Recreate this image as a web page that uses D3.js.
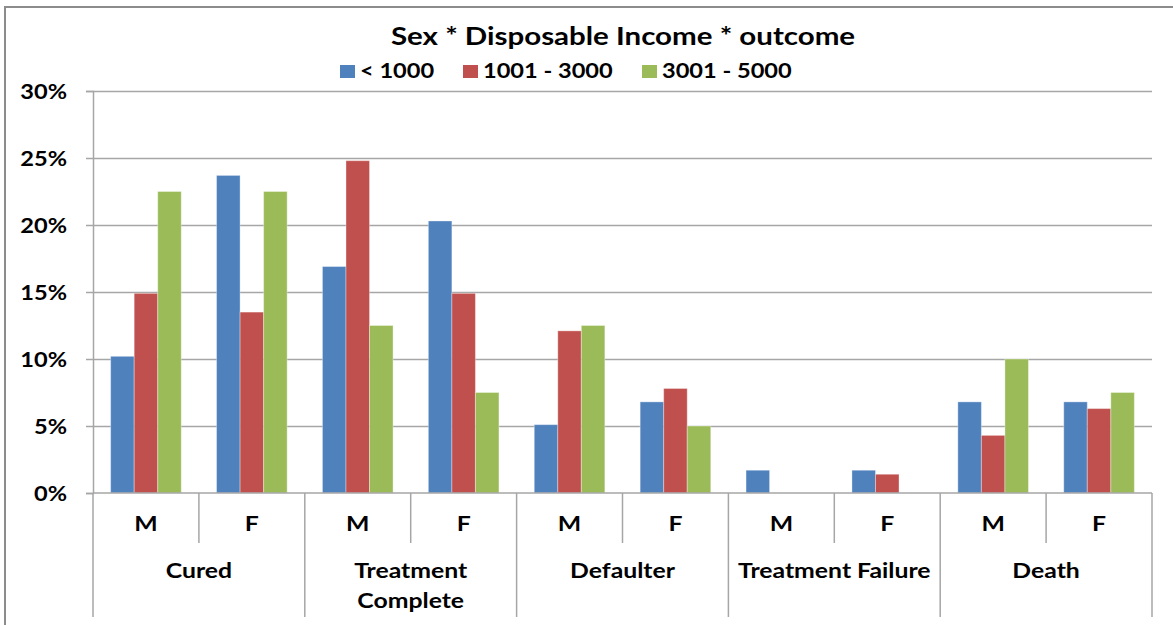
<!DOCTYPE html>
<html>
<head>
<meta charset="utf-8">
<script src="https://cdn.jsdelivr.net/npm/d3@7"></script>
<style>
  html, body { margin: 0; padding: 0; background: #fff; }
  svg { display: block; }
  text { font-family: Lato, "Open Sans", sans-serif; font-weight: bold; fill: #000; }
</style>
</head>
<body>
<svg id="chart" width="1173" height="625"></svg>
<script>
// Outcome categories, each split by sex
const categories = ["Cured", "Treatment Complete", "Defaulter", "Treatment Failure", "Death"];
const categoryLines = [["Cured"], ["Treatment", "Complete"], ["Defaulter"], ["Treatment Failure"], ["Death"]];
const sexes = ["M", "F"];

// Income bands (legend order)
const seriesNames = ["< 1000", "1001 - 3000", "3001 - 5000"];
const seriesColors = ["#4F81BD", "#C0504D", "#9BBB59"];

// Percentages per category/sex, in order Cured M, Cured F, Treatment Complete M, ...
const under1000   = [10.2, 23.7, 16.9, 20.3, 5.1, 6.8, 1.7, 1.7, 6.8, 6.8];
const from1001    = [14.9, 13.5, 24.8, 14.9, 12.1, 7.8, 0.0, 1.4, 4.3, 6.3];
const from3001    = [22.5, 22.5, 12.5, 7.5, 12.5, 5.0, 0.0, 0.0, 10.0, 7.5];

const yTicks = [0, 5, 10, 15, 20, 25, 30];

const seriesValues = [under1000, from1001, from3001];

// Horizontal stretch applied to every label
const SX = 1.18;

const svg = d3.select("#chart");
const plot = { left: 93, right: 1152, top: 91, bottom: 493 };

// outer chart frame
svg.append("rect")
  .attr("x", 5).attr("y", 7)
  .attr("width", 1200).attr("height", 660)
  .attr("fill", "none").attr("stroke", "#8c8c8c").attr("stroke-width", 2);

const groups = [];
categories.forEach(c => sexes.forEach(s => groups.push(c + "|" + s)));

const x0 = d3.scaleBand().domain(groups).range([plot.left, plot.right]).padding(0);
const x1 = d3.scaleBand().domain(seriesNames).range([0, x0.bandwidth()])
  .paddingInner(0).paddingOuter(0.75);
const y = d3.scaleLinear().domain([0, 30]).range([plot.bottom, plot.top]);

// gridlines
svg.append("g")
  .attr("transform", `translate(${plot.left},0)`)
  .call(d3.axisLeft(y).tickValues(yTicks.slice(1)).tickSize(-(plot.right - plot.left)).tickFormat(""))
  .call(g => g.select(".domain").remove())
  .call(g => g.selectAll("line").attr("stroke", "#a6a6a6").attr("stroke-width", 1.5));

// y axis
const yAxis = svg.append("g")
  .attr("transform", `translate(${plot.left},0)`)
  .call(d3.axisLeft(y).tickValues(yTicks).tickSize(7).tickFormat(d => d + "%"));
yAxis.select(".domain").attr("stroke", "#a6a6a6").attr("stroke-width", 1.5);
yAxis.selectAll("line").attr("stroke", "#a6a6a6").attr("stroke-width", 1.5);
yAxis.selectAll("text")
  .attr("x", null)
  .attr("dy", "0.36em")
  .attr("transform", `translate(-26,0) scale(${SX},1)`)
  .style("font-size", "20px")
  .attr("fill", "#000");

// bars
const barData = [];
groups.forEach((g, i) => {
  seriesNames.forEach((s, k) => {
    barData.push({ group: g, series: s, value: seriesValues[k][i], color: seriesColors[k] });
  });
});

svg.append("g").selectAll("rect")
  .data(barData.filter(d => d.value > 0))
  .join("rect")
  .attr("x", d => x0(d.group) + x1(d.series))
  .attr("width", x1.bandwidth())
  .attr("y", d => y(d.value))
  .attr("height", d => y(0) - y(d.value))
  .attr("fill", d => d.color)
  .attr("stroke", "rgba(255,255,255,0.35)")
  .attr("stroke-width", 1);

// category axis: baseline, dividers and labels
const xAxis = svg.append("g");
xAxis.append("line")
  .attr("x1", plot.left).attr("x2", plot.right)
  .attr("y1", plot.bottom).attr("y2", plot.bottom)
  .attr("stroke", "#a6a6a6").attr("stroke-width", 1.5);

const catScale = d3.scaleBand().domain(categories).range([plot.left, plot.right]).padding(0);

// long dividers between categories
const catEdges = categories.map(c => catScale(c)).concat([plot.right]);
xAxis.selectAll("line.cat")
  .data(catEdges)
  .join("line")
  .attr("class", "cat")
  .attr("x1", d => d).attr("x2", d => d)
  .attr("y1", plot.bottom).attr("y2", 617)
  .attr("stroke", "#a6a6a6").attr("stroke-width", 1.5);

// short dividers between M and F
xAxis.selectAll("line.sex")
  .data(categories)
  .join("line")
  .attr("class", "sex")
  .attr("x1", c => x0(c + "|F")).attr("x2", c => x0(c + "|F"))
  .attr("y1", plot.bottom).attr("y2", 543)
  .attr("stroke", "#a6a6a6").attr("stroke-width", 1.5);

// sex labels
xAxis.selectAll("text.sex")
  .data(groups)
  .join("text")
  .attr("class", "sex")
  .attr("text-anchor", "middle")
  .attr("transform", g => `translate(${x0(g) + x0.bandwidth() / 2},531) scale(${SX},1)`)
  .style("font-size", "21px")
  .text(g => g.split("|")[1]);

// category labels
categories.forEach((c, i) => {
  const cx = catScale(c) + catScale.bandwidth() / 2;
  categoryLines[i].forEach((line, j) => {
    xAxis.append("text")
      .attr("text-anchor", "middle")
      .attr("transform", `translate(${cx},${578 + j * 30}) scale(${SX},1)`)
      .style("font-size", "21px")
      .text(line);
  });
});

// title
svg.append("text")
  .attr("text-anchor", "middle")
  .attr("transform", `translate(623,45) scale(${SX},1)`)
  .style("font-size", "25px")
  .text("Sex * Disposable Income * outcome");

// legend
const legendX = [340, 463, 642];
const legend = svg.append("g");
seriesNames.forEach((s, k) => {
  legend.append("rect")
    .attr("x", legendX[k]).attr("y", 65)
    .attr("width", 15).attr("height", 13)
    .attr("fill", seriesColors[k]);
  legend.append("text")
    .attr("transform", `translate(${legendX[k] + 20},78) scale(${SX},1)`)
    .style("font-size", "20px")
    .text(s);
});
</script>
</body>
</html>
